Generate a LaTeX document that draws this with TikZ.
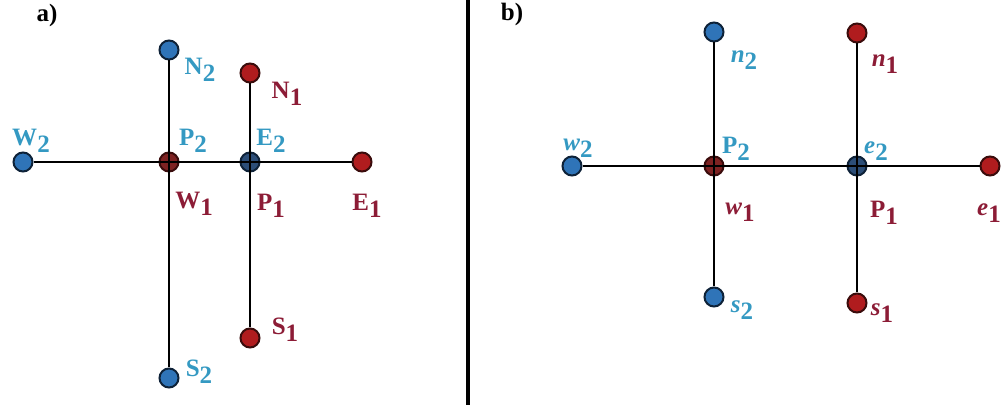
\documentclass[tikz,border=0pt]{standalone}
\usepackage{fontspec}
\setmainfont{Liberation Serif}
\usepackage{xcolor}
\usepackage{tikz}
\usetikzlibrary{positioning}

\definecolor{dotblue}{HTML}{2F74B8}
\definecolor{dotred}{HTML}{B01C1E}
\definecolor{crossred}{HTML}{7E2222}
\definecolor{crossblue}{HTML}{2C4E78}
\definecolor{edgeblue}{HTML}{0E2238}
\definecolor{edgered}{HTML}{3A0C0C}
\definecolor{txtblue}{HTML}{3499C2}
\definecolor{txtred}{HTML}{8C1C36}

\newcommand{\lbl}[2]{#1\raisebox{-0.6ex}{#2}}

\begin{document}
\begin{tikzpicture}[x=1pt,y=-1pt,
	bdot/.style={draw=edgeblue, circle, fill=dotblue, line width=2pt, minimum size=19pt, inner sep=0pt},
	rdot/.style={draw=edgered, circle, fill=dotred, line width=2pt, minimum size=19pt, inner sep=0pt},
	bcross/.style={bdot, fill=crossblue},
	rcross/.style={rdot, fill=crossred},
	btxt/.style={text=txtblue, inner sep=0pt, font=\fontsize{25}{27}\selectfont\bfseries},
	rtxt/.style={text=txtred, inner sep=0pt, font=\fontsize{25}{27}\selectfont\bfseries},
	head/.style={inner sep=0pt, font=\fontsize{25}{27}\selectfont\bfseries},
	link/.style={line width=2.8pt}]
		\useasboundingbox (0,0) rectangle (1002,411);

		% panel a
		\node[head] (ha) at (47,15) {a)};
		\node[bdot] (aW2) at (23,162) {};
		\node[rcross] (aP2) at (169,162) {};
		\node[bcross] (aE2) at (250,162) {};
		\node[rdot] (aE1) at (362,162) {};
		\node[bdot] (aN2) at (169,50) {};
		\node[bdot] (aS2) at (169,378) {};
		\node[rdot] (aN1) at (250,73) {};
		\node[rdot] (aS1) at (250,338) {};

		\draw[link] (aW2) -- (aE1);
		\draw[link] (aN2) -- (aS2);
		\draw[link] (aN1) -- (aS1);

		\node[btxt] (laN2) at (200,70) {\lbl{N}{2}};
		\node[rtxt] (laN1) at (287,94) {\lbl{N}{1}};
		\node[btxt] (laW2) at (31,141) {\lbl{W}{2}};
		\node[btxt] (laP2) at (193,141) {\lbl{P}{2}};
		\node[btxt] (laE2) at (271,141) {\lbl{E}{2}};
		\node[rtxt] (laW1) at (194,204) {\lbl{W}{1}};
		\node[rtxt] (laP1) at (271,206) {\lbl{P}{1}};
		\node[rtxt] (laE1) at (367,206) {\lbl{E}{1}};
		\node[rtxt] (laS1) at (285,330) {\lbl{S}{1}};
		\node[btxt] (laS2) at (199,372) {\lbl{S}{2}};

		% divider
		\coordinate (top) at (468,0);
		\coordinate (bot) at (468,405);
		\draw[line width=4.5pt] (top) -- (bot);

		% panel b
		\node[head] (hb) at (512,14) {b)};
		\node[bdot] (bw2) at (572,166) {};
		\node[rcross] (bP2) at (714,166) {};
		\node[bcross] (be2) at (857,166) {};
		\node[rdot] (be1) at (990,166) {};
		\node[bdot] (bn2) at (714,32) {};
		\node[bdot] (bs2) at (714,297) {};
		\node[rdot] (bn1) at (857,33) {};
		\node[rdot] (bs1) at (857,303) {};

		\draw[link] (bw2) -- (be1);
		\draw[link] (bn2) -- (bs2);
		\draw[link] (bn1) -- (bs1);

		\node[btxt] (lbn2) at (744,60) {\lbl{\textit{n}}{2}};
		\node[rtxt] (lbn1) at (885,64) {\lbl{\textit{n}}{1}};
		\node[btxt] (lbw2) at (578,148) {\lbl{\textit{w}}{2}};
		\node[btxt] (lbP2) at (736,149) {\lbl{P}{2}};
		\node[btxt] (lbe2) at (876,151) {\lbl{\textit{e}}{2}};
		\node[rtxt] (lbw1) at (740,212) {\lbl{\textit{w}}{1}};
		\node[rtxt] (lbP1) at (884,213) {\lbl{P}{1}};
		\node[rtxt] (lbe1) at (989,213) {\lbl{\textit{e}}{1}};
		\node[btxt] (lbs2) at (742,310) {\lbl{\textit{s}}{2}};
		\node[rtxt] (lbs1) at (882,313) {\lbl{\textit{s}}{1}};
	\end{tikzpicture}
\end{document}
